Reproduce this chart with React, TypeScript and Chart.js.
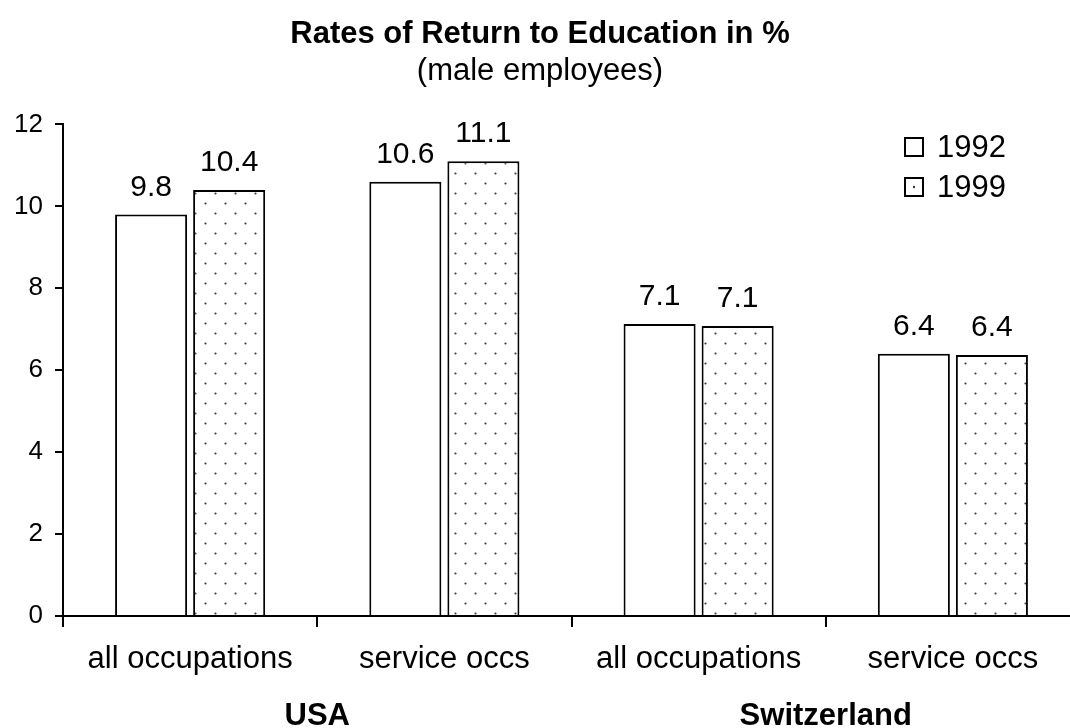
import React, { useEffect, useRef } from "react";
import { Chart, registerables } from "chart.js";

Chart.register(...registerables);

const categories = ["all occupations", "service occs", "all occupations", "service occs"];
const groups = ["USA", "Switzerland"];
const seriesNames = ["1992", "1999"];
const values1992 = [9.8, 10.6, 7.13, 6.4];
const values1999 = [10.4, 11.1, 7.08, 6.37];
const yTicks = [0, 2, 4, 6, 8, 10, 12];

const FONT = '"Liberation Sans", Arial, Helvetica, sans-serif';

function makePattern(): CanvasPattern | string {
  const c = document.createElement("canvas");
  c.width = 20;
  c.height = 20;
  const g = c.getContext("2d");
  if (!g) return "#fff";
  g.fillStyle = "#ffffff";
  g.fillRect(0, 0, 20, 20);
  g.fillStyle = "#3a3a3a";
  g.beginPath();
  g.arc(5.5, 3.5, 1.1, 0, Math.PI * 2);
  g.arc(15.5, 13.5, 1.1, 0, Math.PI * 2);
  g.fill();
  const ctx = document.createElement("canvas").getContext("2d");
  return ctx ? (ctx.createPattern(c, "repeat") as CanvasPattern) : "#fff";
}

const labelsPlugin = {
  id: "valueLabels",
  afterDatasetsDraw(chart: any) {
    const ctx = chart.ctx;
    ctx.save();
    ctx.font = `30px ${FONT}`;
    ctx.fillStyle = "#000";
    ctx.textAlign = "center";
    ctx.textBaseline = "alphabetic";
    chart.data.datasets.forEach((ds: any, di: number) => {
      const meta = chart.getDatasetMeta(di);
      meta.data.forEach((bar: any, i: number) => {
        const v = ds.data[i] as number;
        ctx.fillText(v.toFixed(1), bar.x, bar.y - 19);
      });
    });
    ctx.restore();
  },
};

const groupPlugin = {
  id: "groupLabels",
  afterDraw(chart: any) {
    const ctx = chart.ctx;
    const xs = chart.scales.x;
    ctx.save();
    ctx.font = `bold 31px ${FONT}`;
    ctx.fillStyle = "#000";
    ctx.textAlign = "center";
    ctx.textBaseline = "alphabetic";
    groups.forEach((g, gi) => {
      const a = xs.getPixelForValue(gi * 2);
      const b = xs.getPixelForValue(gi * 2 + 1);
      ctx.fillText(g, (a + b) / 2, 725);
    });
    ctx.restore();
  },
};

const legendPlugin = {
  id: "customLegend",
  afterDraw(chart: any) {
    const ctx = chart.ctx;
    const area = chart.chartArea;
    const bx = area.right - 175;
    const rows = [138, 178];
    ctx.save();
    chart.data.datasets.forEach((ds: any, di: number) => {
      const y = rows[di];
      ctx.fillStyle = "#fff";
      ctx.fillRect(bx, y, 18, 18);
      if (di === 1) {
        ctx.fillStyle = "#3a3a3a";
        ctx.beginPath();
        ctx.arc(bx + 9, y + 9, 1.2, 0, Math.PI * 2);
        ctx.fill();
      }
      ctx.strokeStyle = "#000";
      ctx.lineWidth = 2;
      ctx.strokeRect(bx, y, 18, 18);
      ctx.fillStyle = "#000";
      ctx.font = `31px ${FONT}`;
      ctx.textAlign = "left";
      ctx.textBaseline = "middle";
      ctx.fillText(ds.label, bx + 32, y + 10);
    });
    ctx.restore();
  },
};

export default function App() {
  const ref = useRef<HTMLCanvasElement | null>(null);

  useEffect(() => {
    if (!ref.current) return;
    const pattern = makePattern();
    const chart = new Chart(ref.current, {
      type: "bar",
      data: {
        labels: categories,
        datasets: [
          {
            label: seriesNames[0],
            data: values1992,
            backgroundColor: "#ffffff",
            borderColor: "#000000",
            borderWidth: 2,
            categoryPercentage: 0.614,
            barPercentage: 0.923,
          },
          {
            label: seriesNames[1],
            data: values1999,
            backgroundColor: pattern as any,
            borderColor: "#000000",
            borderWidth: 2,
            categoryPercentage: 0.614,
            barPercentage: 0.923,
          },
        ],
      },
      options: {
        responsive: false,
        animation: false,
        devicePixelRatio: 1,
        layout: { padding: { left: 0, right: 0, top: 0, bottom: 0 } },
        plugins: {
          legend: { display: false },
          tooltip: { enabled: false },
          title: {
            display: true,
            text: "Rates of Return to Education in %",
            color: "#000",
            font: { family: FONT, size: 31, weight: "bold" },
            padding: { top: 16, bottom: 0 },
          },
          subtitle: {
            display: true,
            text: "(male employees)",
            color: "#000",
            font: { family: FONT, size: 31 },
            padding: { top: 0, bottom: 34 },
          },
        },
        scales: {
          x: {
            grid: {
              display: true,
              drawOnChartArea: false,
              drawTicks: true,
              tickLength: 11,
              color: "#000",
              lineWidth: 2,
              offset: true,
            },
            border: { display: true, color: "#000", width: 2 },
            ticks: {
              color: "#000",
              font: { family: FONT, size: 31 },
              padding: 14,
              maxRotation: 0,
              autoSkip: false,
            },
            afterFit: (s: any) => {
              s.height = 112;
            },
          },
          y: {
            min: yTicks[0],
            max: yTicks[yTicks.length - 1],
            afterBuildTicks: (s: any) => {
              s.ticks = yTicks.map((v) => ({ value: v }));
            },
            grid: {
              display: true,
              drawOnChartArea: false,
              drawTicks: true,
              tickLength: 8,
              color: "#000",
              lineWidth: 2,
            },
            border: { display: true, color: "#000", width: 2 },
            ticks: {
              color: "#000",
              font: { family: FONT, size: 26 },
              padding: 12,
            },
            afterFit: (s: any) => {
              s.width = 63;
            },
          },
        },
      },
      plugins: [labelsPlugin, groupPlugin, legendPlugin],
    });
    return () => chart.destroy();
  }, []);

  return (
    <div
      style={{
        position: "fixed",
        left: 0,
        top: 0,
        width: 1070,
        height: 728,
        overflow: "hidden",
        background: "#fff",
      }}
    >
      <canvas ref={ref} width={1080} height={728} style={{ display: "block" }} />
    </div>
  );
}
